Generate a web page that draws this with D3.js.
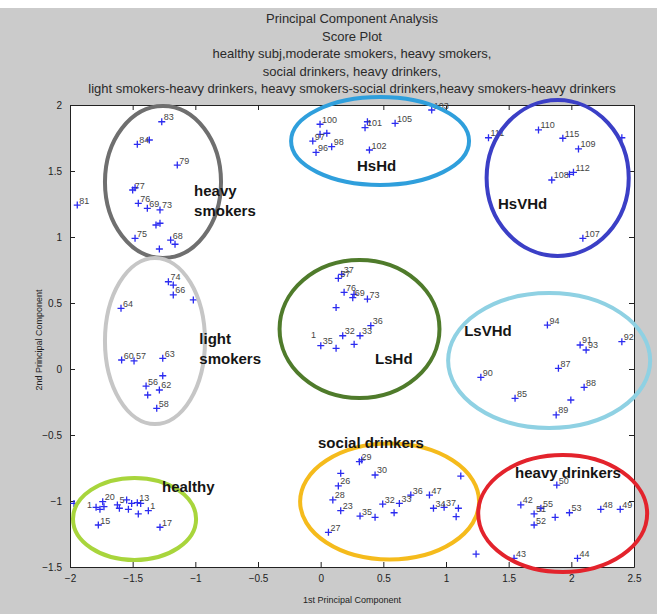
<!DOCTYPE html>
<html>
<head>
<meta charset="utf-8">
<script src="https://cdn.jsdelivr.net/npm/d3@7"></script>
<style>
  body { margin: 0; background: #fff; }
  text { font-family: "Liberation Sans", Arial, sans-serif; }
</style>
</head>
<body>
<div id="chart"></div>
<script>
// title lines
var titleLines = [
  'Principal Component Analysis',
  'Score Plot',
  'healthy subj,moderate smokers, heavy smokers,',
  'social drinkers, heavy drinkers,',
  'light smokers-heavy drinkers, heavy smokers-social drinkers,heavy smokers-heavy drinkers'
];
var xTicks = [-2, -1.5, -1, -0.5, 0, 0.5, 1, 1.5, 2, 2.5];
var yTicks = [-1.5, -1, -0.5, 0, 0.5, 1, 1.5, 2];

// score points: [PC1, PC2, label]
var healthy = [
  [-1.968,-1.018,''], [-1.792,-1.048,''], [-1.761,-1.063,''], [-1.739,-1.005,'20'],
  [-1.729,-1.043,''], [-1.622,-1.030,'5'], [-1.606,-1.055,''], [-1.548,-0.992,''],
  [-1.534,-1.063,''], [-1.508,-1.018,''], [-1.463,-1.013,'13'], [-1.436,-1.018,''],
  [-1.455,-1.098,''], [-1.375,-1.073,'1'], [-1.774,-1.182,'15'], [-1.282,-1.199,'17']
];
var heavySmokers = [
  [-1.268,1.873,'83'], [-1.463,1.702,'84'], [-1.367,1.735,''], [-1.144,1.545,'79'],
  [-1.500,1.356,'77'], [-1.481,1.373,''], [-1.942,1.242,'81'], [-1.455,1.255,'76'],
  [-1.383,1.217,'69'], [-1.282,1.205,'73'], [-1.314,1.091,''], [-1.282,1.104,''],
  [-1.481,0.990,'75'], [-1.197,0.977,'68'], [-1.162,0.945,''], [-1.287,0.909,'']
];
var lightSmokers = [
  [-1.215,0.661,'74'], [-1.176,0.636,''], [-1.176,0.561,'66'], [-1.016,0.523,''],
  [-1.593,0.460,'64'], [-1.588,0.068,'60'], [-1.489,0.061,'57'], [-1.260,0.081,'63'],
  [-1.260,-0.051,''], [-1.393,-0.129,'56'], [-1.287,-0.159,'62'], [-1.380,-0.197,''],
  [-1.308,-0.298,'58']
];
var hsHd = [
  [-0.005,1.854,'100'], [0.354,1.828,'101'], [0.373,1.873,''], [0.594,1.861,'105'],
  [-0.063,1.727,'97'], [-0.005,1.778,''], [0.049,1.786,''], [-0.037,1.641,'96'],
  [0.088,1.684,'98'], [0.389,1.659,'102'], [0.886,1.962,'103']
];
var lsHd = [
  [0.141,0.687,'37'], [0.168,0.717,'37'], [0.187,0.581,'76'], [0.256,0.540,'69'],
  [0.266,0.566,''], [0.373,0.530,'73'], [0.123,0.465,''], [0.400,0.328,'36'],
  [0.314,0.252,'33'], [0.176,0.252,'32'], [0.001,0.177,'35'], [0.123,0.157,''],
  [0.267,0.187,'']
];
var socialDrinkers = [
  [0.309,-0.702,'29'], [0.328,-0.689,''], [0.434,-0.803,'30'], [0.160,-0.790,''],
  [0.141,-0.886,'26'], [0.097,-0.992,'28'], [0.160,-1.073,'23'], [0.062,-1.237,'27'],
  [0.314,-1.114,'35'], [0.434,-1.124,''], [0.495,-1.023,'32'], [0.586,-1.089,''],
  [0.628,-1.018,'33'], [0.719,-0.955,'36'], [0.868,-0.955,'47'], [0.900,-1.055,'34'],
  [0.985,-1.048,'37'], [1.099,-1.055,''], [1.081,-1.119,''], [1.118,-0.811,''],
  [1.240,-1.402,'']
];
var hsVHd = [
  [1.339,1.752,'111'], [1.738,1.811,'110'], [1.932,1.748,'115'], [2.057,1.667,'109'],
  [2.017,1.490,'112'], [1.985,1.475,''], [1.844,1.432,'108'], [2.092,0.990,'107'],
  [2.403,1.752,'']
];
var lsVHd = [
  [1.809,0.333,'94'], [2.070,0.182,'91'], [2.118,0.144,'93'], [2.403,0.207,'92'],
  [1.897,0.005,'87'], [1.278,-0.063,'90'], [2.102,-0.139,'88'], [1.551,-0.222,'85'],
  [1.996,-0.235,''], [1.879,-0.348,'89']
];
var heavyDrinkers = [
  [1.884,-0.879,'50'], [1.597,-1.030,'42'], [1.703,-1.098,'51'], [1.757,-1.055,'55'],
  [1.703,-1.182,'52'], [1.871,-1.124,''], [1.985,-1.089,'53'], [2.235,-1.063,'48'],
  [2.390,-1.063,'49'], [1.543,-1.434,'43'], [2.049,-1.434,'44']
];
// labels with no marker visible
var strayLabels = [[-1.88,-1.065,'1'], [-0.093,0.22,'1']];

// group outlines: names, [cx, cy, rx, ry], label anchor, all in PC units
var groupNames = [['heavy','smokers'], ['light','smokers'], ['healthy'], ['HsHd'], ['LsHd'],
  ['social drinkers'], ['HsVHd'], ['LsVHd'], ['heavy drinkers']];
var groupEllipses = [
  [-1.258,1.417,0.463,0.576], [-1.322,0.212,0.399,0.629], [-1.485,-1.136,0.491,0.311],
  [0.474,1.727,0.710,0.333], [0.310,0.303,0.638,0.523], [0.550,-1.004,0.714,0.439],
  [1.891,1.447,0.567,0.591], [1.823,0.064,0.806,0.511], [1.931,-1.095,0.674,0.443]
];
var groupLabelPos = [
  [-1.010,1.311], [-0.968,0.189], [-1.266,-0.932], [0.290,1.50], [0.434,0.038],
  [-0.021,-0.598], [1.415,1.212], [1.145,0.25], [1.551,-0.826]
];
var groupColors = ['#6f6f6f','#c6c6c6','#a8d53c','#2f9fdc','#4f7b2b','#f5bb1c','#3b3fc6','#8fd1e3','#e3232c'];

var width = 670, height = 614;
var margin = {top: 105, right: 36, bottom: 47, left: 70};

var svg = d3.select('#chart').append('svg')
  .attr('width', width)
  .attr('height', height);

// figure background
svg.append('rect')
  .attr('x', 0).attr('y', 8)
  .attr('width', 657).attr('height', height - 8)
  .attr('fill', '#cbcbcb');

var x = d3.scaleLinear().domain([-2, 2.5]).range([margin.left, width - margin.right]);
var y = d3.scaleLinear().domain([-1.5, 2]).range([height - margin.bottom, margin.top]);

svg.append('rect')
  .attr('x', x(-2)).attr('y', y(2))
  .attr('width', x(2.5) - x(-2)).attr('height', y(-1.5) - y(2))
  .attr('fill', '#fff');

// axes, MATLAB style box with inner ticks
svg.append('g')
  .attr('transform', 'translate(0,' + y(-1.5) + ')')
  .call(d3.axisBottom(x).tickValues(xTicks).tickSizeInner(-5).tickSizeOuter(0).tickPadding(8).tickFormat(d3.format('')));
svg.append('g')
  .attr('transform', 'translate(0,' + y(2) + ')')
  .call(d3.axisTop(x).tickValues(xTicks).tickSizeInner(-5).tickSizeOuter(0).tickFormat(''));
svg.append('g')
  .attr('transform', 'translate(' + x(-2) + ',0)')
  .call(d3.axisLeft(y).tickValues(yTicks).tickSizeInner(-5).tickSizeOuter(0).tickPadding(8).tickFormat(d3.format('')));
svg.append('g')
  .attr('transform', 'translate(' + x(2.5) + ',0)')
  .call(d3.axisRight(y).tickValues(yTicks).tickSizeInner(-5).tickSizeOuter(0).tickFormat(''));

svg.selectAll('.domain').attr('stroke', '#222');
svg.selectAll('.tick line').attr('stroke', '#222');
svg.selectAll('.tick text')
  .attr('font-size', 10)
  .attr('fill', '#222')
  .style('font-family', '"Liberation Sans", Arial, sans-serif');

// titles
svg.selectAll('.title').data(titleLines).enter()
  .append('text')
  .attr('class', 'title')
  .attr('x', (x(-2) + x(2.5)) / 2)
  .attr('y', function(d, i) { return 23 + i * 17.5; })
  .attr('text-anchor', 'middle')
  .attr('font-size', 13)
  .attr('fill', '#2a2a2a')
  .text(function(d) { return d; });

svg.append('text')
  .attr('x', (x(-2) + x(2.5)) / 2)
  .attr('y', 603)
  .attr('text-anchor', 'middle')
  .attr('font-size', 9)
  .attr('fill', '#222')
  .text('1st Principal Component');

svg.append('text')
  .attr('transform', 'translate(42,' + y(0.22) + ') rotate(-90)')
  .attr('text-anchor', 'middle')
  .attr('font-size', 9)
  .attr('fill', '#222')
  .text('2nd Principal Component');

// points
var allPoints = [].concat(healthy, heavySmokers, lightSmokers, hsHd, lsHd,
  socialDrinkers, hsVHd, lsVHd, heavyDrinkers);

var marks = svg.append('g');
marks.selectAll('path.pt').data(allPoints).enter()
  .append('path')
  .attr('class', 'pt')
  .attr('d', function(d) {
    var px = x(d[0]), py = y(d[1]);
    return 'M' + (px - 3.5) + ',' + py + 'H' + (px + 3.5) + 'M' + px + ',' + (py - 3.5) + 'V' + (py + 3.5);
  })
  .attr('stroke', '#2b2bf0')
  .attr('stroke-width', 1.3);

marks.selectAll('text.lab').data(allPoints.concat(strayLabels).filter(function(d) { return d[2] !== ''; }))
  .enter()
  .append('text')
  .attr('class', 'lab')
  .attr('x', function(d) { return x(d[0]) + 2; })
  .attr('y', function(d) { return y(d[1]) - 1.5; })
  .attr('font-size', 9)
  .attr('fill', '#444')
  .text(function(d) { return d[2]; });

// group ellipses
svg.append('g').selectAll('ellipse').data(groupEllipses).enter()
  .append('ellipse')
  .attr('cx', function(d) { return x(d[0]); })
  .attr('cy', function(d) { return y(d[1]); })
  .attr('rx', function(d) { return x(d[0] + d[2]) - x(d[0]); })
  .attr('ry', function(d) { return y(d[1] - d[3]) - y(d[1]); })
  .attr('fill', 'none')
  .attr('stroke', function(d, i) { return groupColors[i]; })
  .attr('stroke-width', 4);

// group names
var names = svg.append('g').selectAll('text').data(groupNames).enter()
  .append('text')
  .attr('x', function(d, i) { return x(groupLabelPos[i][0]); })
  .attr('y', function(d, i) { return y(groupLabelPos[i][1]); })
  .attr('font-size', 15)
  .attr('font-weight', 'bold')
  .attr('fill', '#151515');
names.selectAll('tspan').data(function(d, i) { return d.map(function(t) { return [t, i]; }); })
  .enter()
  .append('tspan')
  .attr('x', function(d) { return x(groupLabelPos[d[1]][0]); })
  .attr('dy', function(d, j) { return j === 0 ? 0 : 20; })
  .text(function(d) { return d[0]; });
</script>
</body>
</html>
